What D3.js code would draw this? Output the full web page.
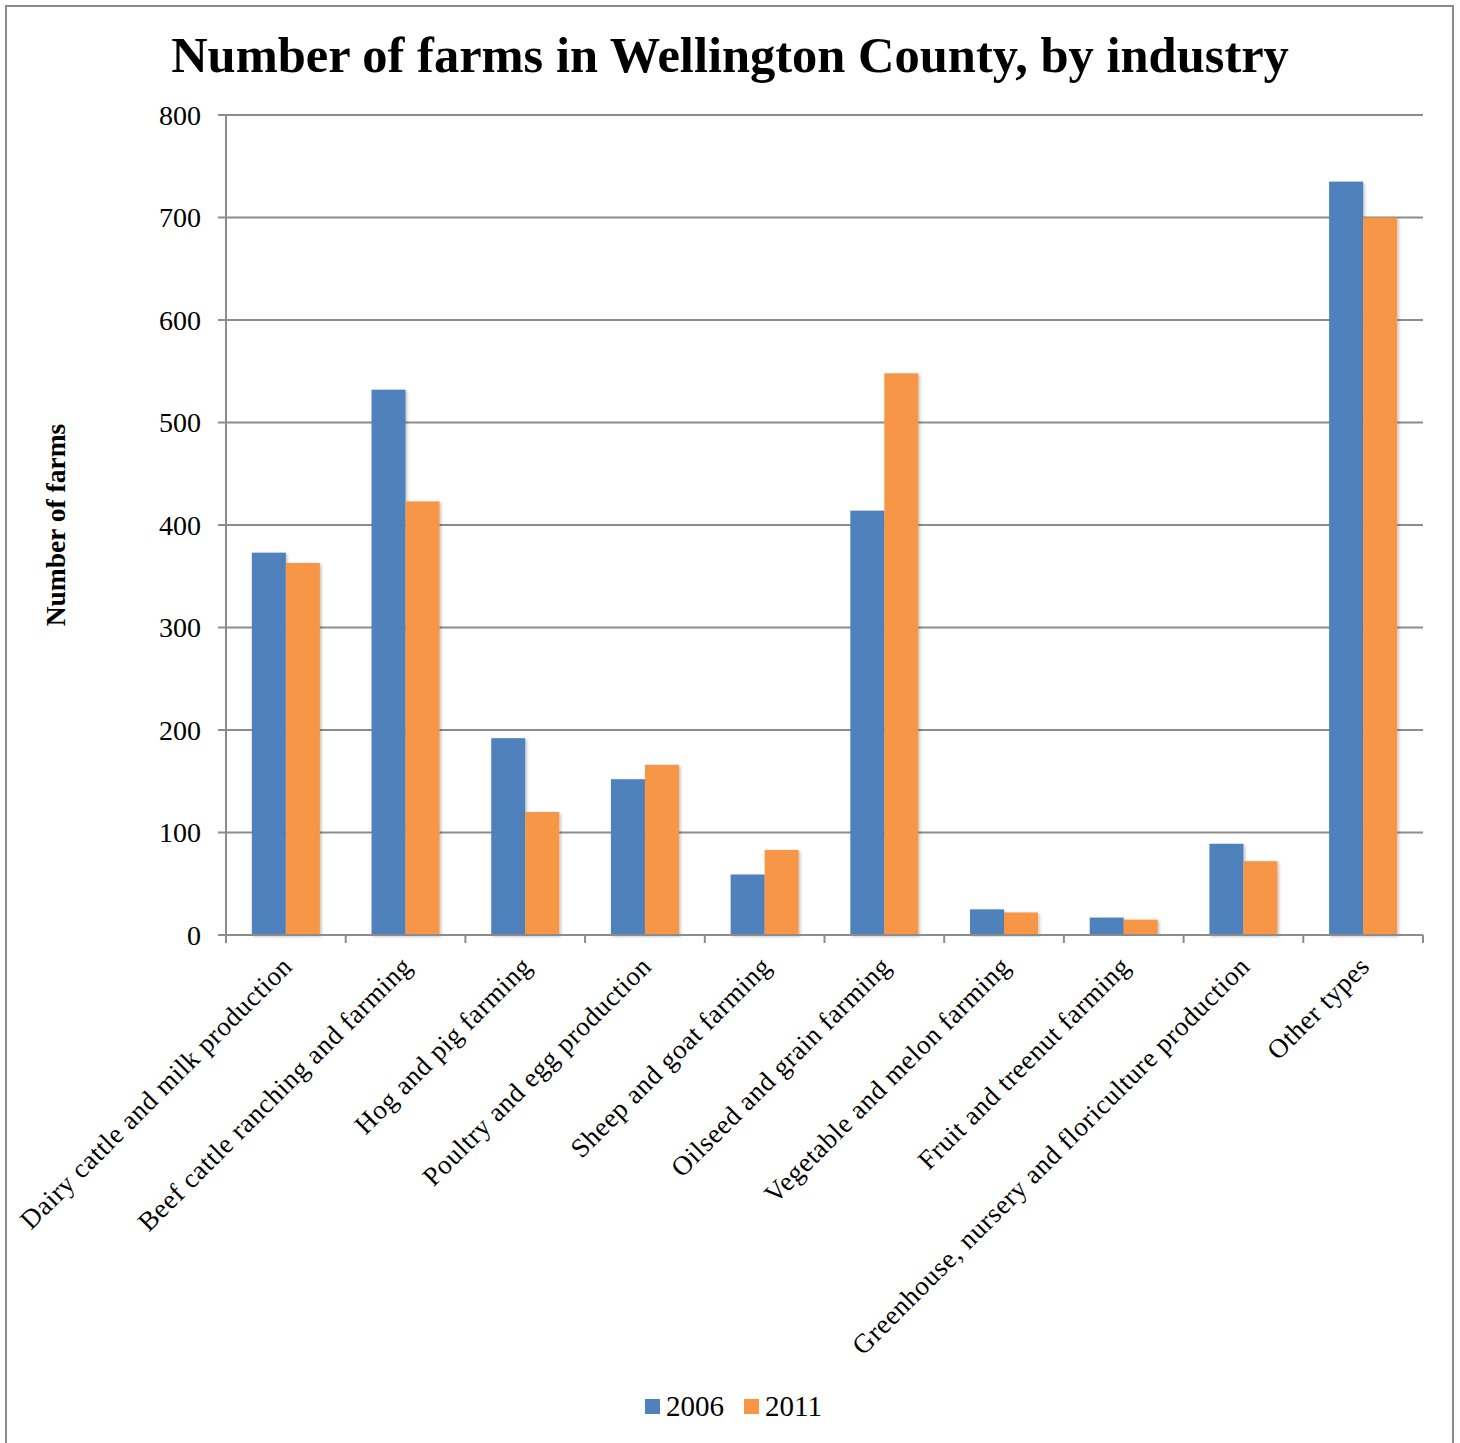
<!DOCTYPE html>
<html>
<head>
<meta charset="utf-8">
<script src="https://cdn.jsdelivr.net/npm/d3@7"></script>
<style>
  html, body { margin: 0; padding: 0; background: #fff; }
  svg { display: block; }
  text { font-family: "Liberation Serif", "DejaVu Serif", serif; fill: #000; }
</style>
</head>
<body>
<svg id="chart" width="1460" height="1443"></svg>
<script>
// Farm counts by industry, Census of Agriculture 2006 vs 2011
const categories = [
  "Dairy cattle and milk production",
  "Beef cattle ranching and farming",
  "Hog and pig farming",
  "Poultry and egg production",
  "Sheep and goat farming",
  "Oilseed and grain farming",
  "Vegetable and melon farming",
  "Fruit and treenut farming",
  "Greenhouse, nursery and floriculture production",
  "Other types"
];
const seriesNames = ["2006", "2011"];
const values2006 = [373, 532, 192, 152, 59, 414, 25, 17, 89, 735];
const values2011 = [363, 423, 120, 166, 83, 548, 22, 15, 72, 700];
const yTicks = [0, 100, 200, 300, 400, 500, 600, 700, 800];

const colors = { "2006": "#4F81BD", "2011": "#F79646" };
const gridColor = "#8c8c8c";

const svg = d3.select("#chart");
const W = 1460, H = 1443;
const margin = { left: 226, right: W - 1423, top: 115, bottom: H - 935 };

// outer frame
svg.append("rect")
  .attr("x", 6).attr("y", 6)
  .attr("width", 1447).attr("height", 1460)
  .attr("fill", "none").attr("stroke", "#8a8a8a").attr("stroke-width", 2);

// soft drop shadow used on the bars
const defs = svg.append("defs");
const f = defs.append("filter").attr("id", "barShadow")
  .attr("x", "-20%").attr("y", "-5%").attr("width", "140%").attr("height", "110%");
f.append("feDropShadow").attr("dx", 1.5).attr("dy", 1.5).attr("stdDeviation", 1.5)
  .attr("flood-color", "#000").attr("flood-opacity", 0.25);

const x = d3.scaleBand().domain(categories).range([margin.left, W - margin.right]).paddingInner(0).paddingOuter(0);
const x1 = d3.scaleBand().domain(seriesNames).range([0, x.bandwidth()]).paddingInner(0).paddingOuter(0.76);
const y = d3.scaleLinear().domain([0, 800]).range([H - margin.bottom, margin.top]);

// horizontal gridlines with tick stubs
svg.append("g").selectAll("line").data(yTicks).join("line")
  .attr("x1", margin.left - 8).attr("x2", W - margin.right)
  .attr("y1", d => y(d)).attr("y2", d => y(d))
  .attr("stroke", gridColor).attr("stroke-width", 2);

// y tick labels
svg.append("g").selectAll("text").data(yTicks).join("text")
  .attr("x", 201).attr("y", d => y(d))
  .attr("dy", "0.34em")
  .attr("text-anchor", "end")
  .attr("font-size", 28)
  .text(d => d);

// bars
const groups = svg.append("g").selectAll("g").data(categories).join("g")
  .attr("transform", d => `translate(${x(d)},0)`);
groups.selectAll("rect")
  .data((d, i) => [
    { key: "2006", value: values2006[i] },
    { key: "2011", value: values2011[i] }
  ])
  .join("rect")
  .attr("x", d => x1(d.key))
  .attr("width", x1.bandwidth())
  .attr("y", d => y(d.value))
  .attr("height", d => y(0) - y(d.value))
  .attr("fill", d => colors[d.key])
  .attr("filter", "url(#barShadow)");

// y axis line
svg.append("line")
  .attr("x1", margin.left).attr("x2", margin.left)
  .attr("y1", y(800)).attr("y2", y(0))
  .attr("stroke", gridColor).attr("stroke-width", 2);

// x axis line and category boundary ticks
svg.append("line")
  .attr("x1", margin.left).attr("x2", W - margin.right)
  .attr("y1", y(0)).attr("y2", y(0))
  .attr("stroke", gridColor).attr("stroke-width", 2);
const bounds = categories.map(c => x(c)).concat([W - margin.right]);
svg.append("g").selectAll("line").data(bounds).join("line")
  .attr("x1", d => d).attr("x2", d => d)
  .attr("y1", y(0)).attr("y2", y(0) + 8)
  .attr("stroke", gridColor).attr("stroke-width", 2);

// rotated category labels
svg.append("g").selectAll("text").data(categories).join("text")
  .attr("text-anchor", "end")
  .attr("font-size", 27)
  .attr("letter-spacing", 0.6)
  .attr("transform", d => `translate(${x(d) + x.bandwidth() / 2 + 8},${y(0) + 33}) rotate(-45)`)
  .text(d => d);

// title
svg.append("text")
  .attr("x", 730).attr("y", 72)
  .attr("text-anchor", "middle")
  .attr("font-size", 50.5)
  .attr("font-weight", "bold")
  .text("Number of farms in Wellington County, by industry");

// y axis title
svg.append("text")
  .attr("transform", `translate(65,${(y(0) + y(800)) / 2}) rotate(-90)`)
  .attr("text-anchor", "middle")
  .attr("font-size", 27.5)
  .attr("font-weight", "bold")
  .text("Number of farms");

// legend
const legend = svg.append("g");
const legendItems = [
  { key: "2006", x: 645 },
  { key: "2011", x: 744 }
];
legendItems.forEach(it => {
  legend.append("rect")
    .attr("x", it.x).attr("y", 1399).attr("width", 15).attr("height", 15)
    .attr("fill", colors[it.key]);
  legend.append("text")
    .attr("x", it.x + 21).attr("y", 1416)
    .attr("font-size", 29)
    .text(it.key);
});
</script>
</body>
</html>
